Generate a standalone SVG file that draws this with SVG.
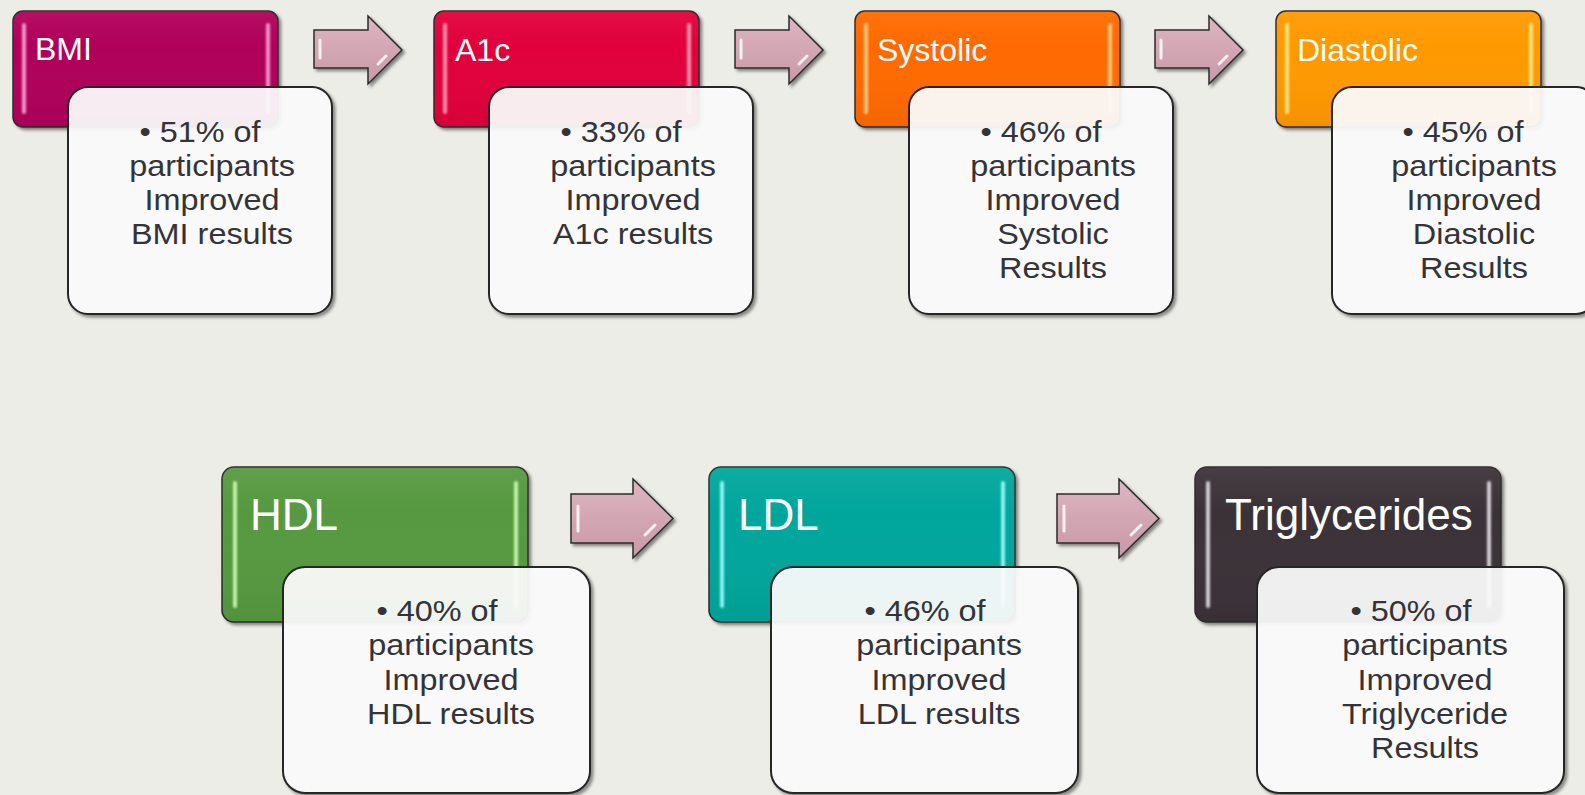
<svg xmlns="http://www.w3.org/2000/svg" width="1585" height="795" viewBox="0 0 1585 795">
  <defs>
    <filter id="shadow" x="-10%" y="-10%" width="130%" height="130%">
      <feDropShadow dx="2.5" dy="2.5" stdDeviation="1.5" flood-color="#000" flood-opacity="0.45"/>
    </filter>
    <filter id="glow" x="-50%" y="-10%" width="200%" height="120%">
      <feGaussianBlur stdDeviation="0.8"/>
    </filter>
    <linearGradient id="arrowFill" x1="0" y1="0" x2="0" y2="1">
      <stop offset="0" stop-color="#DDB6C1"/>
      <stop offset="0.5" stop-color="#D3A6B3"/>
      <stop offset="1" stop-color="#C99AA8"/>
    </linearGradient>
    <linearGradient id="sheen" x1="0" y1="0" x2="0" y2="1">
      <stop offset="0" stop-color="#fff" stop-opacity="0.06"/>
      <stop offset="0.3" stop-color="#fff" stop-opacity="0"/>
      <stop offset="1" stop-color="#000" stop-opacity="0.05"/>
    </linearGradient>
  </defs>
  <style>
    .bg { fill: #EDEDE8; }
    .head { stroke: #2b2b2b; stroke-width: 1.5; filter: url(#shadow); }
    .gloss { fill: url(#sheen); }
    .bar { stroke-width: 4; stroke-linecap: round; filter: url(#glow); }
    .card { fill: #FFFFFF; fill-opacity: 0.9; stroke: #262626; stroke-width: 2; filter: url(#shadow); }
    .lbl { font-family: "Liberation Sans", Arial, sans-serif; fill: #ffffff; }
    .lbl-s { font-size: 32px; }
    .lbl-l { font-size: 44px; }
    .body { font-family: "Liberation Sans", Arial, sans-serif; font-size: 30px; fill: #333338; text-anchor: middle; }
    .arrow { fill: url(#arrowFill); stroke: #2b2b2b; stroke-width: 1.5; filter: url(#shadow); }
    .ahl { fill: none; stroke: #ffffff; stroke-opacity: 0.85; stroke-width: 3; stroke-linecap: round; }
  </style>

  <rect class="bg" x="0" y="0" width="1585" height="795"/>

  <!-- connectors -->
  <g id="connectors">
    <g transform="translate(314,16)">
      <path class="arrow" d="M0,14 H54 V0 L88,34 L54,68 V52 H0 Z"/>
      <path class="ahl" d="M6,24 V42"/>
      <path class="ahl" d="M72,40 L64,48" stroke-opacity="0.6"/>
    </g>
    <g transform="translate(735,16)">
      <path class="arrow" d="M0,14 H54 V0 L88,34 L54,68 V52 H0 Z"/>
      <path class="ahl" d="M6,24 V42"/>
      <path class="ahl" d="M72,40 L64,48" stroke-opacity="0.6"/>
    </g>
    <g transform="translate(1155,16)">
      <path class="arrow" d="M0,14 H54 V0 L88,34 L54,68 V52 H0 Z"/>
      <path class="ahl" d="M6,24 V42"/>
      <path class="ahl" d="M72,40 L64,48" stroke-opacity="0.6"/>
    </g>
    <g transform="translate(571,479)">
      <path class="arrow" d="M0,15 H62 V0 L102,39.5 L62,79 V64 H0 Z"/>
      <path class="ahl" d="M7,27 V52"/>
      <path class="ahl" d="M84,46 L74,56" stroke-opacity="0.6"/>
    </g>
    <g transform="translate(1057,479)">
      <path class="arrow" d="M0,15 H62 V0 L102,39.5 L62,79 V64 H0 Z"/>
      <path class="ahl" d="M7,27 V52"/>
      <path class="ahl" d="M84,46 L74,56" stroke-opacity="0.6"/>
    </g>
  </g>

  <!-- top row -->
  <g id="bmi">
    <rect class="head" x="13" y="11" width="265" height="116" rx="10" fill="#B0005A"/>
    <rect class="gloss" x="13" y="11" width="265" height="116" rx="10"/>
    <path class="bar" d="M24,25 V112 M268,25 V112" stroke="#F590CC"/>
    <text class="lbl lbl-s" x="35" y="60">BMI</text>
    <rect class="card" x="68" y="87" width="264" height="227" rx="20"/>
    <text class="body" transform="translate(200,142) scale(1.08,1)">• 51% of</text>
    <text class="body" transform="translate(212,176) scale(1.08,1)">participants</text>
    <text class="body" transform="translate(212,210) scale(1.08,1)">Improved</text>
    <text class="body" transform="translate(212,244) scale(1.08,1)">BMI results</text>
  </g>

  <g id="a1c">
    <rect class="head" x="434" y="11" width="265" height="116" rx="10" fill="#E1003B"/>
    <rect class="gloss" x="434" y="11" width="265" height="116" rx="10"/>
    <path class="bar" d="M445,25 V112 M689,25 V112" stroke="#FF8AAA"/>
    <text class="lbl lbl-s" x="455" y="61">A1c</text>
    <rect class="card" x="489" y="87" width="264" height="227" rx="20"/>
    <text class="body" transform="translate(621,142) scale(1.08,1)">• 33% of</text>
    <text class="body" transform="translate(633,176) scale(1.08,1)">participants</text>
    <text class="body" transform="translate(633,210) scale(1.08,1)">Improved</text>
    <text class="body" transform="translate(633,244) scale(1.08,1)">A1c results</text>
  </g>

  <g id="systolic">
    <rect class="head" x="855" y="11" width="265" height="116" rx="10" fill="#FF6A00"/>
    <rect class="gloss" x="855" y="11" width="265" height="116" rx="10"/>
    <path class="bar" d="M866,25 V112 M1110,25 V112" stroke="#FFC47A"/>
    <text class="lbl lbl-s" x="877" y="61">Systolic</text>
    <rect class="card" x="909" y="87" width="264" height="227" rx="20"/>
    <text class="body" transform="translate(1041,142) scale(1.08,1)">• 46% of</text>
    <text class="body" transform="translate(1053,176) scale(1.08,1)">participants</text>
    <text class="body" transform="translate(1053,210) scale(1.08,1)">Improved</text>
    <text class="body" transform="translate(1053,244) scale(1.08,1)">Systolic</text>
    <text class="body" transform="translate(1053,278) scale(1.08,1)">Results</text>
  </g>

  <g id="diastolic">
    <rect class="head" x="1276" y="11" width="265" height="116" rx="10" fill="#FF9900"/>
    <rect class="gloss" x="1276" y="11" width="265" height="116" rx="10"/>
    <path class="bar" d="M1287,25 V112 M1531,25 V112" stroke="#FFE27A"/>
    <text class="lbl lbl-s" x="1297" y="61">Diastolic</text>
    <rect class="card" x="1332" y="87" width="264" height="227" rx="20"/>
    <text class="body" transform="translate(1463,142) scale(1.08,1)">• 45% of</text>
    <text class="body" transform="translate(1474,176) scale(1.08,1)">participants</text>
    <text class="body" transform="translate(1474,210) scale(1.08,1)">Improved</text>
    <text class="body" transform="translate(1474,244) scale(1.08,1)">Diastolic</text>
    <text class="body" transform="translate(1474,278) scale(1.08,1)">Results</text>
  </g>

  <!-- bottom row -->
  <g id="hdl">
    <rect class="head" x="222" y="467" width="306" height="155" rx="12" fill="#56993F"/>
    <rect class="gloss" x="222" y="467" width="306" height="155" rx="12"/>
    <path class="bar" d="M235,483 V606 M516,483 V606" stroke="#C0F2A8"/>
    <text class="lbl lbl-l" x="250" y="530">HDL</text>
    <rect class="card" x="283" y="567" width="307" height="226" rx="22"/>
    <text class="body" transform="translate(437,621) scale(1.08,1)">• 40% of</text>
    <text class="body" transform="translate(451,655) scale(1.08,1)">participants</text>
    <text class="body" transform="translate(451,690) scale(1.08,1)">Improved</text>
    <text class="body" transform="translate(451,724) scale(1.08,1)">HDL results</text>
  </g>

  <g id="ldl">
    <rect class="head" x="709" y="467" width="306" height="155" rx="12" fill="#00A69C"/>
    <rect class="gloss" x="709" y="467" width="306" height="155" rx="12"/>
    <path class="bar" d="M722,483 V606 M1003,483 V606" stroke="#8AF4F0"/>
    <text class="lbl lbl-l" x="738" y="530">LDL</text>
    <rect class="card" x="771" y="567" width="307" height="226" rx="22"/>
    <text class="body" transform="translate(925,621) scale(1.08,1)">• 46% of</text>
    <text class="body" transform="translate(939,655) scale(1.08,1)">participants</text>
    <text class="body" transform="translate(939,690) scale(1.08,1)">Improved</text>
    <text class="body" transform="translate(939,724) scale(1.08,1)">LDL results</text>
  </g>

  <g id="triglycerides">
    <rect class="head" x="1195" y="467" width="306" height="155" rx="12" fill="#3A3338"/>
    <rect class="gloss" x="1195" y="467" width="306" height="155" rx="12"/>
    <path class="bar" d="M1208,483 V606 M1489,483 V606" stroke="#D0CCD0"/>
    <text class="lbl lbl-l" x="1225" y="530">Triglycerides</text>
    <rect class="card" x="1257" y="567" width="307" height="226" rx="22"/>
    <text class="body" transform="translate(1411,621) scale(1.08,1)">• 50% of</text>
    <text class="body" transform="translate(1425,655) scale(1.08,1)">participants</text>
    <text class="body" transform="translate(1425,690) scale(1.08,1)">Improved</text>
    <text class="body" transform="translate(1425,724) scale(1.08,1)">Triglyceride</text>
    <text class="body" transform="translate(1425,758) scale(1.08,1)">Results</text>
  </g>
</svg>
